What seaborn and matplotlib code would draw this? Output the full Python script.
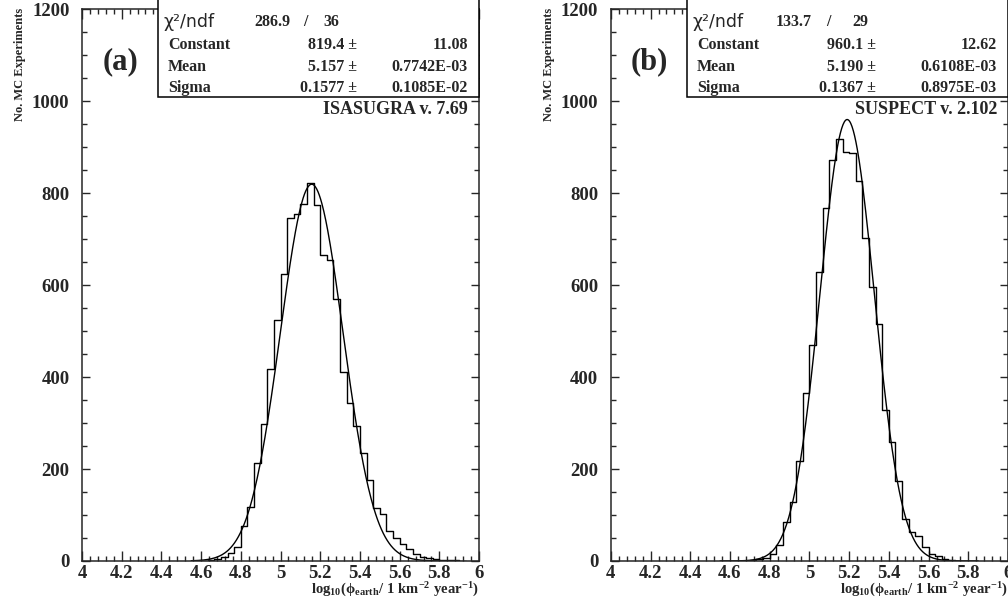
import numpy as np
import pandas as pd
import seaborn as sns
import matplotlib.pyplot as plt
from matplotlib.ticker import MultipleLocator
from matplotlib.patches import Rectangle

# histogram bins: 60 bins over [4, 6]
bin_edges = np.linspace(4, 6, 61)
bin_width = bin_edges[1] - bin_edges[0]

# (a) ISASUGRA v. 7.69, counts starting at bin 18 (x = 4.6)
first_bin_a = 18
counts_a = [1, 2, 4, 8, 17, 30, 76, 118, 214, 298, 417, 525, 625, 746, 754, 776,
            822, 775, 665, 654, 570, 412, 344, 293, 234, 176, 116, 102, 66, 51,
            37, 26, 15, 9, 7, 5, 3, 3, 2, 1]
fit_a = {"Constant": (819.4, "11.08"), "Mean": (5.157, "0.7742E-03"),
         "Sigma": (0.1577, "0.1085E-02")}
fit_a_txt = ["819.4", "5.157", "0.1577"]
chi2_a = ("286.9", "36")

# (b) SUSPECT v. 2.102, counts starting at bin 20 (x = 4.667)
first_bin_b = 20
counts_b = [1, 2, 4, 7, 16, 35, 84, 128, 217, 365, 470, 628, 767, 873, 918, 890,
            887, 827, 703, 595, 516, 329, 258, 175, 92, 64, 55, 31, 16, 11, 4, 3, 1]
fit_b = {"Constant": (960.1, "12.62"), "Mean": (5.190, "0.6108E-03"),
         "Sigma": (0.1367, "0.8975E-03")}
fit_b_txt = ["960.1", "5.190", "0.1367"]
chi2_b = ("133.7", "29")

sns.set_style("ticks")
plt.rcParams['font.family'] = ['Liberation Serif', 'DejaVu Serif']
plt.rcParams['font.weight'] = 'bold'
plt.rcParams['axes.unicode_minus'] = False
plt.rcParams['mathtext.fontset'] = 'custom'
plt.rcParams['mathtext.rm'] = 'Liberation Serif:bold'
plt.rcParams['mathtext.it'] = 'Liberation Serif:bold'
plt.rcParams['mathtext.bf'] = 'Liberation Serif:bold'

fig = plt.figure(figsize=(10.08, 6.03), dpi=100)
ax_a = fig.add_axes([0.0813, 0.0697, 0.394, 0.915])
ax_b = fig.add_axes([0.606, 0.0697, 0.394, 0.915])

panels = [
    (ax_a, first_bin_a, counts_a, fit_a, fit_a_txt, chi2_a, "(a)", "ISASUGRA v. 7.69",
     0.692, 0.479, 0.562),
    (ax_b, first_bin_b, counts_b, fit_b, fit_b_txt, chi2_b, "(b)", "SUSPECT v. 2.102",
     0.667, 0.46, 0.549),
]

stat_fs = 11.5

for (ax, first, counts, fit, fit_txt, chi2, tag, prog,
     val_x, chi_x, slash_x) in panels:
    lo = bin_edges[first]
    hi = bin_edges[first + len(counts)]
    centers = lo + (np.arange(len(counts)) + 0.5) * bin_width
    df = pd.DataFrame({"x": centers, "n": counts})
    sns.histplot(data=df, x="x", weights="n", bins=len(counts), binrange=(lo, hi),
                 element="step", fill=False, color="black", linewidth=1.0, ax=ax)

    c, m, s = fit["Constant"][0], fit["Mean"][0], fit["Sigma"][0]
    xs = np.linspace(4.55, 5.85, 400)
    sns.lineplot(x=xs, y=c * np.exp(-0.5 * ((xs - m) / s) ** 2),
                 color="black", linewidth=1.0, ax=ax)

    ax.set_xlim(4, 6)
    ax.set_ylim(0, 1200)
    ax.xaxis.set_minor_locator(MultipleLocator(0.04))
    ax.yaxis.set_major_locator(MultipleLocator(200))
    ax.yaxis.set_minor_locator(MultipleLocator(50))
    ax.set_xticks(np.arange(4, 6.01, 0.2))
    ax.set_xticklabels(["4", "4.2", "4.4", "4.6", "4.8", "5", "5.2", "5.4", "5.6", "5.8", "6"])
    ax.tick_params(which="both", direction="in", top=True, right=True,
                   labelsize=13.5, width=1.0)
    ax.tick_params(axis="y", which="major", length=6, pad=9)
    ax.tick_params(axis="x", which="major", length=7, pad=3)
    ax.tick_params(which="minor", length=3.5)
    for lab in ax.get_xticklabels() + ax.get_yticklabels():
        lab.set_fontweight("bold")
    for sp in ax.spines.values():
        sp.set_linewidth(1.1)
    ax.set_xlabel("")
    ax.set_ylabel("")

    ax.text(-0.156, 1.002, "No. MC Experiments", rotation=90, ha="center", va="top",
            fontsize=9, fontweight="bold", transform=ax.transAxes)
    ax.text(1.0, -0.0525,
            r"$\mathrm{log_{10}(\phi_{earth}/\ 1\ km^{-2}\ year^{-1})}$",
            ha="right", va="center", fontsize=10.5, transform=ax.transAxes)

    # stats box
    ax.add_patch(Rectangle((0.191, 0.841), 0.809, 0.2, transform=ax.transAxes,
                           facecolor="white", edgecolor="black", linewidth=1.1,
                           clip_on=False, zorder=5))
    ax.text(0.205, 0.977, "χ²/ndf", family=["DejaVu Sans"], fontweight="normal",
            fontsize=12.5, ha="left", va="center", transform=ax.transAxes, zorder=6)
    ax.text(chi_x, 0.977, chi2[0], fontsize=stat_fs, ha="center", va="center",
            transform=ax.transAxes, zorder=6)
    ax.text(slash_x, 0.977, "/", fontsize=stat_fs, ha="center", va="center",
            transform=ax.transAxes, zorder=6)
    ax.text(0.607, 0.977, chi2[1], fontsize=stat_fs, ha="left", va="center",
            transform=ax.transAxes, zorder=6)
    for row_y, (name, (val, err)), vtxt in zip([0.936, 0.896, 0.858], fit.items(), fit_txt):
        ax.text(0.217, row_y, name, fontsize=stat_fs, ha="left", va="center",
                transform=ax.transAxes, zorder=6)
        ax.text(val_x, row_y, vtxt + " ±", fontsize=stat_fs, ha="right", va="center",
                transform=ax.transAxes, zorder=6)
        ax.text(0.972, row_y, err, fontsize=stat_fs, ha="right", va="center",
                transform=ax.transAxes, zorder=6)

    ax.text(0.096, 0.904, tag, fontsize=22, fontweight="bold", ha="center", va="center",
            transform=ax.transAxes)
    ax.text(0.972, 0.818, prog, fontsize=13,
            fontweight="bold", ha="right", va="center", transform=ax.transAxes)

fig.savefig("out.png", dpi=100)
